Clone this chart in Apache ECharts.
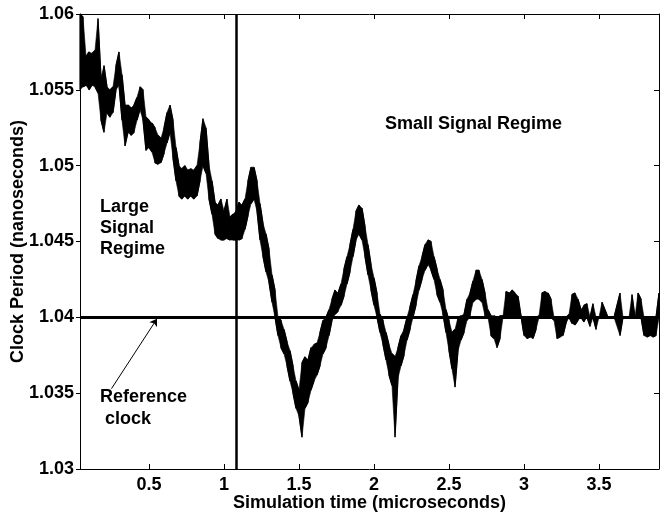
<!DOCTYPE html>
<html>
<head>
<meta charset="utf-8">
<script src="https://cdn.jsdelivr.net/npm/echarts@6/dist/echarts.min.js"></script>
<style>
  html, body { margin: 0; padding: 0; background: #fff; }
  #chart { width: 660px; height: 513px; }
</style>
</head>
<body>
<div id="chart"></div>
<script>
// clock period jitter band (microseconds / nanoseconds)
var timeUs = [
  0.04, 0.06, 0.08, 0.10, 0.12, 0.14, 0.16, 0.18, 0.20, 0.22, 0.24, 0.26, 0.28, 0.30,
  0.32, 0.34, 0.36, 0.38, 0.40, 0.42, 0.44, 0.46, 0.48, 0.50, 0.52, 0.54, 0.56, 0.58,
  0.60, 0.62, 0.64, 0.66, 0.68, 0.70, 0.72, 0.74, 0.76, 0.78, 0.80, 0.82, 0.84, 0.86,
  0.88, 0.90, 0.92, 0.94, 0.96, 0.98, 1.00, 1.02, 1.04, 1.06, 1.08, 1.10, 1.12, 1.14,
  1.16, 1.18, 1.20, 1.22, 1.24, 1.26, 1.28, 1.30, 1.32, 1.34, 1.36, 1.38, 1.40, 1.42,
  1.44, 1.46, 1.48, 1.50, 1.52, 1.54, 1.56, 1.58, 1.60, 1.62, 1.64, 1.66, 1.68, 1.70,
  1.72, 1.74, 1.76, 1.78, 1.80, 1.82, 1.84, 1.86, 1.88, 1.90, 1.92, 1.94, 1.96, 1.98,
  2.00, 2.02, 2.04, 2.06, 2.08, 2.10, 2.12, 2.14, 2.16, 2.18, 2.20, 2.22, 2.24, 2.26,
  2.28, 2.30, 2.32, 2.34, 2.36, 2.38, 2.40, 2.42, 2.44, 2.46, 2.48, 2.50, 2.52, 2.54,
  2.56, 2.58, 2.60, 2.62, 2.64, 2.66, 2.68, 2.70, 2.72, 2.74, 2.76, 2.78, 2.80, 2.82,
  2.84, 2.86, 2.88, 2.90, 2.92, 2.94, 2.96, 2.98, 3.00, 3.02, 3.04, 3.06, 3.08, 3.10,
  3.12, 3.14, 3.16, 3.18, 3.20, 3.22, 3.24, 3.26, 3.28, 3.30, 3.32, 3.34, 3.36, 3.38,
  3.40, 3.42, 3.44, 3.46, 3.48, 3.50, 3.52, 3.56, 3.60, 3.64, 3.66, 3.70, 3.72, 3.74,
  3.76, 3.78, 3.80, 3.82, 3.84, 3.86, 3.88, 3.90
];
var periodLo = [
  1.0550, 1.0552, 1.0553, 1.0550, 1.0553, 1.0552, 1.0548, 1.0530, 1.0522, 1.0535, 1.0532, 1.0535, 1.0550, 1.0553,
  1.0530, 1.0513, 1.0522, 1.0520, 1.0522, 1.0530, 1.0537, 1.0530, 1.0510, 1.0512, 1.0509, 1.0502, 1.0501, 1.0502,
  1.0508, 1.0515, 1.0522, 1.0505, 1.0490, 1.0480, 1.0478, 1.0480, 1.0478, 1.0480, 1.0478, 1.0480, 1.0490, 1.0500,
  1.0495, 1.0478, 1.0468, 1.0455, 1.0452, 1.0451, 1.0451, 1.0452, 1.0451, 1.0451, 1.0451, 1.0451, 1.0452, 1.0458,
  1.0467, 1.0475, 1.0478, 1.0470, 1.0451, 1.0440, 1.0430, 1.0423, 1.0410, 1.0400, 1.0388, 1.0380, 1.0376, 1.0368,
  1.0358, 1.0350, 1.0340, 1.0335, 1.0321, 1.0340, 1.0344, 1.0352, 1.0358, 1.0362, 1.0368, 1.0376, 1.0380, 1.0388,
  1.0398, 1.0402, 1.0404, 1.0408, 1.0414, 1.0422, 1.0430, 1.0440, 1.0451, 1.0455, 1.0451, 1.0440, 1.0428, 1.0418,
  1.0408, 1.0400, 1.0390, 1.0382, 1.0372, 1.0362, 1.0355, 1.0321, 1.0360, 1.0368, 1.0375, 1.0385, 1.0392, 1.0400,
  1.0408, 1.0418, 1.0425, 1.0431, 1.0435, 1.0431, 1.0425, 1.0415, 1.0410, 1.0402, 1.0390, 1.0378, 1.0366, 1.0354,
  1.0378, 1.0385, 1.0390, 1.0398, 1.0401, 1.0410, 1.0412, 1.0412, 1.0410, 1.0401, 1.0400, 1.0388, 1.0386, 1.0380,
  1.0386, 1.0400, 1.0401, 1.0400, 1.0401, 1.0400, 1.0401, 1.0400, 1.0388, 1.0386, 1.0387, 1.0386, 1.0392, 1.0400,
  1.0400, 1.0401, 1.0400, 1.0400, 1.0398, 1.0386, 1.0387, 1.0388, 1.0396, 1.0400, 1.0396, 1.0395, 1.0398, 1.0400,
  1.0397, 1.0400, 1.0394, 1.0400, 1.0392, 1.0400, 1.0400, 1.0400, 1.0400, 1.0388, 1.0400, 1.0400, 1.0400, 1.0400,
  1.0400, 1.0400, 1.0388, 1.0387, 1.0388, 1.0387, 1.0388, 1.0400
];
var periodHi = [
  1.0600, 1.0598, 1.0572, 1.0575, 1.0574, 1.0576, 1.0597, 1.0558, 1.0566, 1.0552, 1.0550, 1.0552, 1.0566, 1.0575,
  1.0560, 1.0540, 1.0540, 1.0538, 1.0540, 1.0545, 1.0552, 1.0550, 1.0532, 1.0530, 1.0528, 1.0525, 1.0520, 1.0518,
  1.0525, 1.0535, 1.0540, 1.0530, 1.0512, 1.0500, 1.0498, 1.0500, 1.0497, 1.0498, 1.0497, 1.0500, 1.0515, 1.0531,
  1.0525, 1.0500, 1.0490, 1.0476, 1.0474, 1.0478, 1.0470, 1.0478, 1.0466, 1.0468, 1.0470, 1.0476, 1.0474, 1.0478,
  1.0490, 1.0499, 1.0499, 1.0490, 1.0475, 1.0462, 1.0455, 1.0445, 1.0428, 1.0418, 1.0400, 1.0398, 1.0392, 1.0384,
  1.0378, 1.0368, 1.0358, 1.0352, 1.0370, 1.0374, 1.0372, 1.0380, 1.0382, 1.0383, 1.0390, 1.0398, 1.0400, 1.0405,
  1.0412, 1.0418, 1.0416, 1.0422, 1.0432, 1.0440, 1.0448, 1.0458, 1.0470, 1.0474, 1.0472, 1.0460, 1.0448, 1.0435,
  1.0426, 1.0416, 1.0402, 1.0398, 1.0390, 1.0382, 1.0376, 1.0374, 1.0380, 1.0388, 1.0392, 1.0400, 1.0407, 1.0415,
  1.0424, 1.0434, 1.0440, 1.0448, 1.0451, 1.0450, 1.0440, 1.0432, 1.0425, 1.0418, 1.0405, 1.0398, 1.0390, 1.0392,
  1.0400, 1.0401, 1.0402, 1.0412, 1.0416, 1.0424, 1.0431, 1.0431, 1.0425, 1.0416, 1.0405, 1.0401, 1.0401, 1.0400,
  1.0401, 1.0401, 1.0417, 1.0416, 1.0418, 1.0416, 1.0414, 1.0401, 1.0400, 1.0400, 1.0400, 1.0400, 1.0400, 1.0401,
  1.0416, 1.0417, 1.0416, 1.0412, 1.0400, 1.0400, 1.0400, 1.0400, 1.0400, 1.0402, 1.0415, 1.0416, 1.0412, 1.0405,
  1.0408, 1.0409, 1.0400, 1.0409, 1.0400, 1.0400, 1.0410, 1.0400, 1.0400, 1.0416, 1.0400, 1.0400, 1.0415, 1.0400,
  1.0416, 1.0412, 1.0400, 1.0400, 1.0400, 1.0400, 1.0400, 1.0416
];

var referencePeriod = 1.04;
var regimeBoundary = 1.08;
var arrowFrom = [0.25, 1.0353];
var arrowTo = [0.553, 1.0399];

var xTicks = [0.5, 1, 1.5, 2, 2.5, 3, 3.5];
var yTicks = [1.03, 1.035, 1.04, 1.045, 1.05, 1.055, 1.06];

// square-wave trace through the band: lo,hi then hi,lo so the edges read as envelope
var trace = [];
for (var i = 0; i < timeUs.length; i++) {
  if (i % 2 === 0) {
    trace.push([timeUs[i], periodLo[i]]);
    trace.push([timeUs[i], periodHi[i]]);
  } else {
    trace.push([timeUs[i], periodHi[i]]);
    trace.push([timeUs[i], periodLo[i]]);
  }
}

var font = "'Liberation Sans', Arial, Helvetica, sans-serif";
var black = "#000";

var myChart = echarts.init(document.getElementById("chart"));

function axisBase(extra) {
  var a = {
    type: "value",
    axisLine: { show: true, onZero: false, lineStyle: { color: black, width: 1 } },
    axisTick: { show: true, inside: true, length: 5, lineStyle: { color: black } },
    splitLine: { show: false },
    axisLabel: { show: false }
  };
  for (var k in extra) a[k] = extra[k];
  return a;
}

// filled jitter band: hi envelope forward, lo envelope back
function renderBand(params, api) {
  var pts = [];
  for (var j = 0; j < timeUs.length; j++) pts.push(api.coord([timeUs[j], periodHi[j]]));
  for (var j2 = timeUs.length - 1; j2 >= 0; j2--) pts.push(api.coord([timeUs[j2], periodLo[j2]]));
  return {
    type: "polygon",
    shape: { points: pts },
    style: { fill: black, stroke: black, lineWidth: 0.6 }
  };
}

var option = {
  animation: false,
  backgroundColor: "#fff",
  grid: { left: 80, right: 1, top: 14, bottom: 44, containLabel: false, outerBoundsMode: "none" },
  xAxis: [
    axisBase({
      min: 0.04, max: 3.9, position: "bottom",
      name: "Simulation time (microseconds)",
      nameLocation: "middle", nameGap: 25, nameMoveOverlap: false,
      nameTextStyle: { color: black, fontFamily: font, fontWeight: "bold", fontSize: 18 },
      axisTick: { show: true, inside: true, length: 5, lineStyle: { color: black }, customValues: xTicks },
      axisLabel: {
        show: true, customValues: xTicks, margin: 7,
        color: black, fontFamily: font, fontWeight: "bold", fontSize: 18,
        formatter: function (v) { return String(+v.toFixed(2)); }
      }
    }),
    axisBase({
      min: 0.04, max: 3.9, position: "top",
      axisTick: { show: true, inside: true, length: 5, lineStyle: { color: black }, customValues: xTicks }
    })
  ],
  yAxis: [
    axisBase({
      min: 1.03, max: 1.06, position: "left",
      name: "Clock Period (nanoseconds)",
      nameLocation: "middle", nameGap: 53, nameRotate: 90, nameMoveOverlap: false,
      nameTextStyle: { color: black, fontFamily: font, fontWeight: "bold", fontSize: 18 },
      axisTick: { show: true, inside: false, length: 4, lineStyle: { color: black }, customValues: yTicks },
      axisLabel: {
        show: true, customValues: yTicks, margin: 6,
        color: black, fontFamily: font, fontWeight: "bold", fontSize: 18,
        formatter: function (v) { return String(+v.toFixed(3)); }
      }
    }),
    axisBase({
      min: 1.03, max: 1.06, position: "right",
      axisTick: { show: true, inside: true, length: 5, lineStyle: { color: black }, customValues: yTicks }
    })
  ],
  series: [
    {
      type: "custom",
      renderItem: renderBand,
      data: [0],
      clip: true,
      silent: true,
      z: 2
    },
    {
      type: "line",
      data: trace,
      showSymbol: false,
      lineStyle: { color: black, width: 1.2 },
      z: 3,
      markLine: {
        silent: true,
        symbol: "none",
        label: { show: false },
        data: [
          { yAxis: referencePeriod, lineStyle: { color: black, width: 3, type: "solid" } },
          { xAxis: regimeBoundary, lineStyle: { color: black, width: 2.5, type: "solid" } }
        ]
      }
    },
    {
      type: "lines",
      coordinateSystem: "cartesian2d",
      symbol: ["none", "arrow"],
      symbolSize: 7,
      lineStyle: { color: black, width: 1, opacity: 1 },
      data: [{ coords: [arrowFrom, arrowTo] }],
      z: 4
    }
  ],
  graphic: [
    {
      type: "text", left: 385, top: 115,
      style: { text: "Small Signal Regime", font: "bold 18px " + font, fill: black }
    },
    {
      type: "text", left: 100, top: 197,
      style: { text: "Large\nSignal\nRegime", font: "bold 18px " + font, fill: black, lineHeight: 21 }
    },
    {
      type: "text", left: 100, top: 386,
      style: { text: "Reference\n clock", font: "bold 18px " + font, fill: black, lineHeight: 22 }
    }
  ]
};

myChart.setOption(option);
</script>
</body>
</html>
